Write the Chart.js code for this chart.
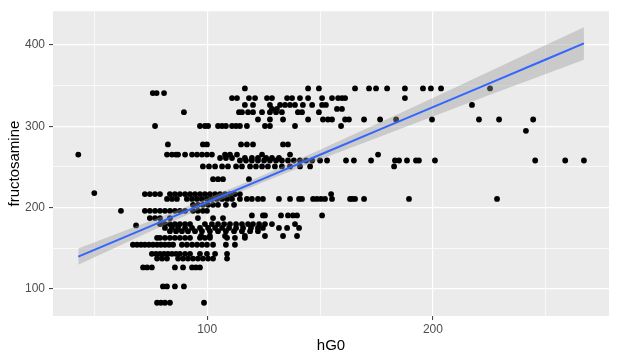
<!DOCTYPE html>
<html>
<head>
<meta charset="utf-8">
<script src="https://cdn.jsdelivr.net/npm/chart.js@4/dist/chart.umd.min.js"></script>
<style>
  html, body { margin: 0; padding: 0; background: #fff; }
  #wrap { width: 617px; height: 362px; }
</style>
</head>
<body>
<div id="wrap"><canvas id="myChart" width="617" height="362"></canvas></div>
<script>
// fructosamine levels (rows of points) and the hG0 values found on each row
const fruLevels = [346.6, 340.9, 334.8, 326.3, 321.4, 317.4, 308.4, 300.4, 294.4, 277.7,
  265.2, 261.0, 257.9, 250.6, 234.9, 217.8, 216.6, 210.6, 203.3, 196, 190.3, 187,
  179.7, 178, 174.9, 170.9, 165, 162.7, 154.2, 143, 137.2, 126.3, 102.9, 82.8];

const hg0Rows = [
  [116.7, 144.7, 149.5, 165.5, 171.7, 174.8, 179.7, 187.6, 195.6, 199.1, 203.6, 225.3],
  [75.9, 77.6, 80.9],
  [111.0, 113.2, 118.5, 121.2, 126.5, 128.7, 135.4, 137.6, 141.1, 144.7, 150.9, 155.3, 158.0, 159.7, 161.1, 187.6],
  [116.7, 120.3, 127.8, 132.3, 134.5, 136.7, 138.9, 142.4, 146.5, 150.9, 152.6, 217.3],
  [128.7, 130.9, 157.5, 159.7],
  [89.7, 114.1, 115.4, 118.1, 120.3, 124.3, 127.8, 130.5, 133.1, 140.2, 142.0, 149.5],
  [122.5, 127.8, 133.6, 144.7, 151.3, 153.5, 155.3, 161.1, 162.8, 169.5, 176.6, 183.7, 199.6, 220.4, 229.3, 244.4],
  [76.9, 96.8, 99.0, 100.4, 104.8, 106.6, 108.3, 111.0, 112.8, 114.5, 117.6, 125.6, 127.8, 138.9, 159.3],
  [241.2],
  [82.6, 98.1, 99.9, 115.0, 117.6, 120.3, 133.6, 135.8],
  [42.9, 82.2, 84.4, 86.2, 87.1, 90.2, 93.3, 95.5, 97.7, 99.9, 102.1, 107.9, 110.1, 113.2, 124.3, 136.7, 175.7],
  [105.7, 108.3, 111.0, 116.7, 119.8, 122.5, 126.1, 128.7, 131.8],
  [114.5, 117.2, 119.8, 122.5, 125.2, 127.8, 130.5, 133.1, 135.8, 138.4, 141.1, 143.8, 146.5, 150.0, 153.1, 161.5, 165.0, 172.6, 183.2, 185.0, 188.5, 192.5, 193.8, 200.9, 245.3, 258.6, 266.9],
  [98.1, 100.8, 103.5, 106.6, 109.2, 112.8, 115.4, 119.0, 121.6, 124.3, 126.9, 130.0, 133.1, 136.7, 141.1, 145.6, 182.8],
  [102.6, 104.8, 107.0, 118.5],
  [50.0],
  [72.4, 74.6, 76.9, 79.1, 83.5, 85.7, 87.9, 90.2, 92.4, 94.6, 96.8, 99.0, 101.2, 103.5, 105.7, 107.9, 110.1, 112.3, 114.5, 154.9],
  [82.2, 84.4, 86.6, 91.0, 93.3, 95.5, 97.7, 99.9, 102.1, 104.3, 106.6, 108.8, 111.0, 114.5, 117.6, 119.8, 122.5, 124.7, 131.8, 136.7, 140.7, 142.0, 146.9, 148.6, 150.4, 152.2, 155.3, 163.3, 164.2, 165.5, 169.5, 189.4, 228.4],
  [93.7, 95.9, 98.1, 100.4, 102.6, 104.8, 108.3, 111.9],
  [61.8, 72.4, 74.6, 76.9, 79.1, 81.3, 83.5, 85.7, 87.9, 90.2, 93.7, 95.9, 98.1, 99.9],
  [119.8, 124.7, 125.6, 132.7, 135.8, 138.0, 139.8, 150.9],
  [74.6, 76.9, 79.1, 83.5, 95.9, 102.6, 107.0],
  [79.1, 81.3, 83.5, 85.7, 87.9, 90.2, 92.4, 99.0, 102.1, 104.8, 107.5, 110.1, 112.8, 115.4, 118.1, 120.3, 123.0, 125.6, 128.7, 138.9],
  [68.5],
  [81.3, 84.4, 87.1, 90.2, 93.3, 96.8, 100.4, 103.5, 106.6, 109.7, 112.8, 115.9, 119.4, 122.5, 124.7, 131.8, 135.4, 140.7],
  [83.5, 86.2, 88.8, 91.5, 94.6, 97.7, 101.2, 104.8, 108.3, 111.9, 115.4, 119.0, 122.5],
  [97.3, 101.2, 107.9, 116.7, 125.6, 133.6, 139.8],
  [77.8, 79.1, 81.3, 83.5, 85.7, 87.9, 90.2, 92.4, 96.8, 99.0, 101.2, 108.8, 112.3, 116.7],
  [67.1, 68.9, 70.7, 72.4, 74.2, 76.0, 77.8, 79.5, 81.3, 83.1, 84.9, 88.8, 91.0, 93.3, 95.5, 97.7, 99.9, 102.6, 108.3, 112.3],
  [75.5, 77.3, 79.1, 80.9, 82.6, 84.4, 86.2, 87.9, 90.2, 92.4, 96.8, 99.9, 103.5, 108.8],
  [77.8, 80.0, 82.2, 87.1, 89.3, 91.5, 93.7, 95.9, 98.1, 100.4, 102.6, 108.8],
  [71.6, 73.4, 75.5, 85.7, 89.3, 93.3, 95.0, 96.8],
  [80.4, 82.2, 85.7, 89.7],
  [77.8, 79.5, 81.3, 83.5, 98.6]
];

// lm smooth: fit and the grey confidence band
const fitX  = [42.9, 75, 100, 125, 150, 175, 200, 225, 250, 266.9];
const fitY  = [139.6, 177.2, 206.5, 235.7, 265, 294.3, 323.6, 352.9, 382.2, 402];
const fitLo = [129.6, 170.7, 202, 231.5, 259, 285.7, 312, 338.5, 364.5, 382];
const fitHi = [149.6, 183.7, 211, 240, 271, 303, 335, 367.4, 400, 422];

const xTicks = [50, 100, 150, 200, 250];
const yTicks = [100, 150, 200, 250, 300, 350, 400];

const points = [];
fruLevels.forEach((lvl, i) => {
  hg0Rows[i].forEach(h => points.push({x: h, y: lvl}));
});
const toXY = arr => fitX.map((x, i) => ({x: x, y: arr[i]}));

const fontFam = "'Liberation Sans', Arial, sans-serif";
const isMajor = v => v % 100 === 0;

const panelBg = {
  id: 'panelBg',
  beforeDraw(chart) {
    const a = chart.chartArea;
    const ctx = chart.ctx;
    ctx.save();
    ctx.fillStyle = '#EBEBEB';
    ctx.fillRect(a.left, a.top, a.right - a.left, a.bottom - a.top);
    ctx.restore();
  }
};

function gridFor() {
  return {
    color: '#FFFFFF',
    lineWidth: c => (c.tick && isMajor(c.tick.value)) ? 1.2 : 0.7,
    tickColor: c => (c.tick && isMajor(c.tick.value)) ? '#333333' : 'rgba(0,0,0,0)',
    tickLength: 4,
    tickWidth: 1
  };
}

const ctx = document.getElementById('myChart').getContext('2d');
const myChart = new Chart(ctx, {
  type: 'scatter',
  data: {
    datasets: [
      {
        data: points,
        backgroundColor: '#000000',
        borderWidth: 0,
        pointRadius: 2.9,
        order: 3
      },
      {
        type: 'line',
        data: toXY(fitLo),
        showLine: true,
        borderWidth: 0,
        borderColor: 'rgba(0,0,0,0)',
        pointRadius: 0,
        fill: false,
        order: 2
      },
      {
        type: 'line',
        data: toXY(fitHi),
        showLine: true,
        borderWidth: 0,
        borderColor: 'rgba(0,0,0,0)',
        backgroundColor: 'rgba(153,153,153,0.4)',
        pointRadius: 0,
        fill: '-1',
        order: 2
      },
      {
        type: 'line',
        data: toXY(fitY),
        showLine: true,
        borderColor: '#3366FF',
        borderWidth: 2,
        pointRadius: 0,
        fill: false,
        order: 1
      }
    ]
  },
  options: {
    responsive: false,
    animation: false,
    devicePixelRatio: 1,
    layout: { padding: { left: 0, right: 8, top: 7, bottom: 0 } },
    plugins: { legend: { display: false }, tooltip: { enabled: false } },
    scales: {
      x: {
        type: 'linear',
        min: 31.7,
        max: 278,
        afterBuildTicks: s => { s.ticks = xTicks.map(v => ({value: v})); },
        afterFit: s => { s.height = 46; },
        border: { display: false },
        grid: gridFor(),
        ticks: {
          color: '#4D4D4D',
          font: { family: fontFam, size: 12 },
          padding: 2,
          maxRotation: 0,
          autoSkip: false,
          callback: v => isMajor(v) ? String(v) : ''
        },
        title: {
          display: true,
          text: 'hG0',
          color: '#000000',
          font: { family: fontFam, size: 15 },
          padding: { top: 0, bottom: 7 }
        }
      },
      y: {
        type: 'linear',
        min: 66.5,
        max: 441.7,
        afterBuildTicks: s => { s.ticks = yTicks.map(v => ({value: v})); },
        afterFit: s => { s.width = 53; },
        border: { display: false },
        grid: gridFor(),
        ticks: {
          color: '#4D4D4D',
          font: { family: fontFam, size: 12 },
          padding: 4,
          autoSkip: false,
          callback: v => isMajor(v) ? String(v) : ''
        },
        title: {
          display: true,
          text: 'fructosamine',
          color: '#000000',
          font: { family: fontFam, size: 15 },
          padding: { top: 6, bottom: 0 }
        }
      }
    }
  },
  plugins: [panelBg]
});
</script>
</body>
</html>
